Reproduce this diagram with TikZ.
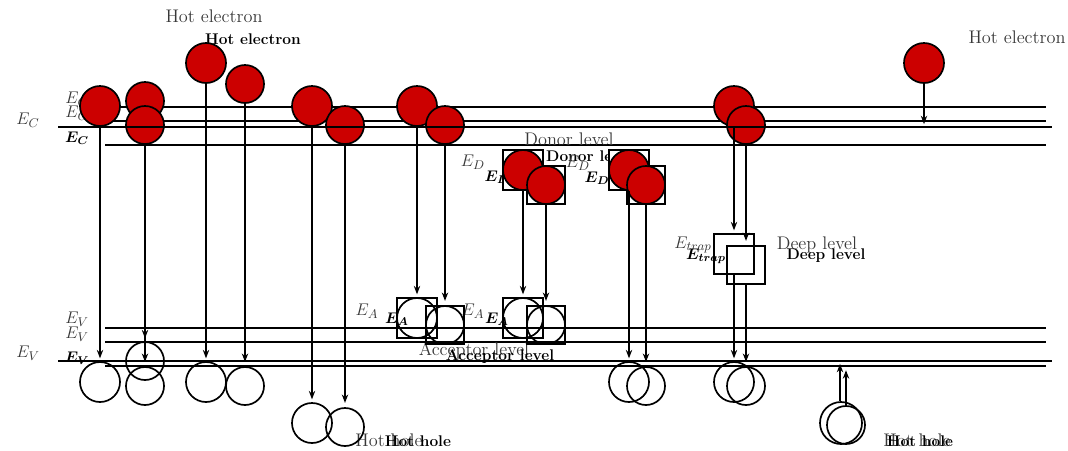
\documentclass[tikz,border=0pt]{standalone}
\usetikzlibrary{arrows.meta}
\definecolor{elecred}{HTML}{CC0000}
\begin{document}
\begin{tikzpicture}[
  x=0.025cm, y=-0.025cm,
  band/.style={line width=1.2pt},
  edge/.style={line width=2pt},
  glab/.style={text=black!78,font=\fontsize{13}{15}\selectfont},
  blab/.style={font=\fontsize{11}{13}\selectfont\bfseries\boldmath},
  elec/.style={circle,draw,line width=1.2pt,fill=elecred,inner sep=0pt,minimum size=1cm},
  hole/.style={circle,draw,line width=1.2pt,inner sep=0pt,minimum size=1cm},
  lvl/.style={rectangle,draw,line width=1.2pt,inner sep=0pt,minimum size=1cm},
  small/.style={minimum size=0.95cm},
  arrA/.style={line width=1.4pt,-{Stealth[length=6pt,width=4.5pt]},shorten >=2pt},
  arrB/.style={line width=1.1pt,-{Stealth[length=6pt,width=4.5pt]},shorten >=3pt}
]
\useasboundingbox (0,0) rectangle (1068,450);
% band edges
\draw[band] (105,107) -- (1046,107);
\draw[band] (105,121) -- (1046,121);
\draw[band] (105,145) -- (1046,145);
\draw[band] (105,328) -- (1046,328);
\draw[band] (105,342) -- (1046,342);
\draw[band] (105,366) -- (1046,366);
% labels
\node[glab] (lhe1) at (214,16) {Hot electron};
\node[glab] (lhe2) at (1017,37) {Hot electron};
\node[blab] (lhe3) at (253,39) {Hot electron};
\node[glab] (lec1) at (28,120) {$E_C$};
\node[glab] (lec2) at (77,99) {$E_C$};
\node[glab] (lec3) at (77,113) {$E_C$};
\node[blab] (lec4) at (77,138) {$E_C$};
\node[glab] (lev1) at (28,353) {$E_V$};
\node[glab] (lev2) at (77,319) {$E_V$};
\node[glab] (lev3) at (77,334) {$E_V$};
\node[blab] (lev4) at (77,358) {$E_V$};
\node[glab] (ldl1) at (569,139) {Donor level};
\node[blab] (ldl2) at (590,156) {Donor level};
\node[glab] (led1) at (473,162) {$E_D$};
\node[glab] (led2) at (578,163) {$E_D$};
\node[blab] (led3) at (497,177) {$E_D$};
\node[blab] (led4) at (597,178) {$E_D$};
\node[glab] (lea1) at (367,311) {$E_A$};
\node[glab] (lea2) at (473,311) {$E_A$};
\node[blab] (lea3) at (397,319) {$E_A$};
\node[blab] (lea4) at (497,319) {$E_A$};
\node[glab] (lal1) at (474,351) {Acceptor level};
\node[blab] (lal2) at (500,357) {Acceptor level};
\node[glab] (let1) at (693,245) {$E_{trap}$};
\node[blab] (let2) at (706,256) {$E_{trap}$};
\node[glab] (ldp1) at (817,245) {Deep level};
\node[blab] (ldp2) at (826,256) {Deep level};
\node[glab] (lhh1) at (389,440) {Hot hole};
\node[blab] (lhh2) at (418,441) {Hot hole};
\node[glab] (lhh3) at (917,440) {Hot hole};
\node[blab] (lhh4) at (920,441) {Hot hole};
% levels
\node[lvl,fill=white] (dA1) at (523,170) {};
\node[lvl,fill=white] (dA2) at (629,170) {};
\node[lvl,small,fill=white] (dB1) at (546,185) {};
\node[lvl,small,fill=white] (dB2) at (646,185) {};
\node[lvl] (aA1) at (417,318) {};
\node[lvl] (aA2) at (523,318) {};
\node[lvl,small] (aB1) at (445,325) {};
\node[lvl,small] (aB2) at (546,325) {};
\node[lvl] (tA) at (734,254) {};
\node[lvl,small] (tB) at (746,265) {};
% electrons
\node[elec] (eA1) at (100,106) {};
\node[elec,small] (eA2) at (145,101) {};
\node[elec] (eA3) at (206,63) {};
\node[elec] (eA4) at (312,106) {};
\node[elec] (eA5) at (417,106) {};
\node[elec] (eA6) at (523,170) {};
\node[elec] (eA7) at (629,170) {};
\node[elec] (eA8) at (734,106) {};
\node[elec] (eA9) at (924,63) {};
\node[elec,small] (eB1) at (145,125) {};
\node[elec,small] (eB2) at (245,84) {};
\node[elec,small] (eB3) at (345,125) {};
\node[elec,small] (eB4) at (445,125) {};
\node[elec,small] (eB5) at (546,185) {};
\node[elec,small] (eB6) at (646,185) {};
\node[elec,small] (eB7) at (746,125) {};
% holes
\node[hole] (hA1) at (100,382) {};
\node[hole,small] (hA2) at (145,361) {};
\node[hole] (hA3) at (206,382) {};
\node[hole] (hA4) at (312,423) {};
\node[hole] (hA5) at (417,318) {};
\node[hole] (hA6) at (523,318) {};
\node[hole] (hA7) at (629,382) {};
\node[hole] (hA8) at (734,382) {};
\node[hole,minimum size=1.05cm] (hA9) at (841,423) {};
\node[hole,small] (hB1) at (145,386) {};
\node[hole,small] (hB2) at (245,386) {};
\node[hole,small] (hB3) at (345,427) {};
\node[hole,small] (hB4) at (445,325) {};
\node[hole,small] (hB5) at (546,325) {};
\node[hole,small] (hB6) at (646,386) {};
\node[hole,small] (hB7) at (746,386) {};
\node[hole,small] (hB8) at (846,425) {};
% band edges drawn on top
\draw[edge] (58,127) -- (1052,127);
\draw[edge] (58,361) -- (1052,361);
\coordinate (cA9) at (924,127);
\coordinate (cHA) at (840,361);
\coordinate (cHB) at (846,366);
% transitions
\draw[arrA] (eA1) -- (hA1);
\draw[arrA] (eB1) -- (hA2);
\draw[arrA] (eA3) -- (hA3);
\draw[arrA] (eA4) -- (hA4);
\draw[arrA] (eA5) -- (hA5);
\draw[arrA] (eA6) -- (hA6);
\draw[arrA] (eA7) -- (hA7);
\draw[arrA] (eA8) -- (tA);
\draw[arrA] (tA) -- (hA8);
\draw[arrA] (eA9) -- (cA9);
\draw[arrA] (hA9.north -| cHA) -- (cHA);
\draw[arrB] (eB1) -- (hB1);
\draw[arrB] (eB2) -- (hB2);
\draw[arrB] (eB3) -- (hB3);
\draw[arrB] (eB4) -- (hB4);
\draw[arrB] (eB5) -- (hB5);
\draw[arrB] (eB6) -- (hB6);
\draw[arrB] (eB7) -- (tB);
\draw[arrB] (tB) -- (hB7);
\draw[arrB] (hB8) -- (cHB);
\end{tikzpicture}
\end{document}
